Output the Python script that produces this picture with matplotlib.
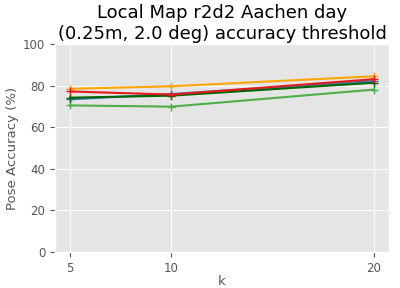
import matplotlib
matplotlib.use("Agg")
import matplotlib.pyplot as plt

plt.style.use("ggplot")

k = [5, 10, 20]
s_blue = [73.4, 76.0, 82.2]
s_dgreen = [74.2, 75.2, 81.4]
s_red = [77.2, 75.7, 83.1]
s_orange = [78.5, 79.7, 84.5]
s_lgreen = [70.5, 69.9, 78.1]

fig, ax = plt.subplots(figsize=(4, 2.88), dpi=100)
fig.subplots_adjust(left=0.1375, right=0.9725, top=0.847, bottom=0.125)
ax.plot(k, s_lgreen, marker="+", color="#4daf4a", lw=1.5)
ax.plot(k, s_orange, marker="+", color="orange", lw=1.5)
ax.plot(k, s_blue, marker="+", color="#377eb8", lw=1.5)
ax.plot(k, s_dgreen, marker="+", color="darkgreen", lw=1.5)
ax.plot(k, s_red, marker="+", color="#e41a1c", lw=1.5)
ax.set_ylim(0, 100)
ax.set_xticks(k)
ax.tick_params(labelsize=8.5)
ax.set_xlabel("k", fontsize=9.5, labelpad=0)
ax.set_ylabel("Pose Accuracy (%)", fontsize=9.5, labelpad=3)
ax.set_title("Local Map r2d2 Aachen day\n(0.25m, 2.0 deg) accuracy threshold", fontsize=13, pad=4)
fig.savefig("out.png")
